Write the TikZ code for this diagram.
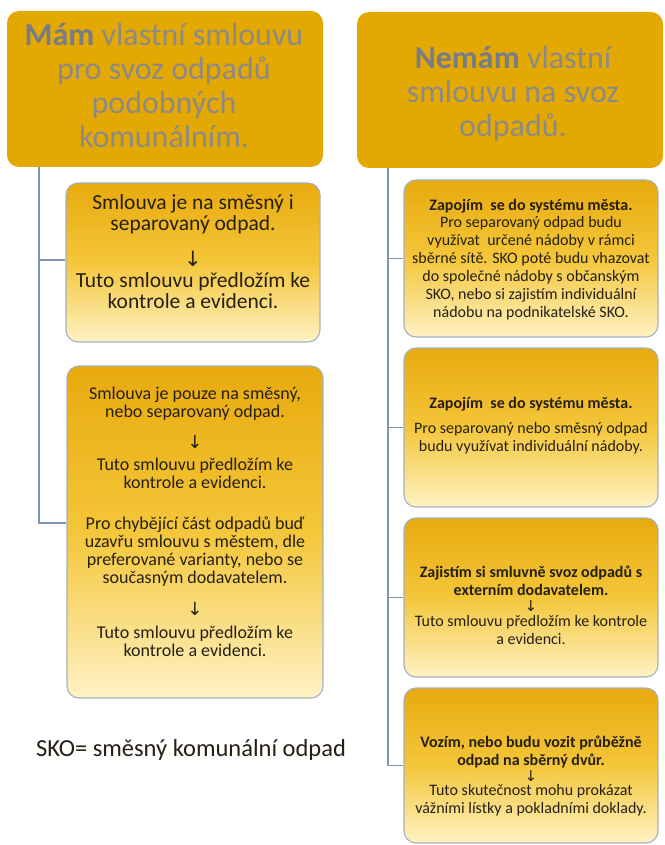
\documentclass[tikz,border=0pt]{standalone}
\usepackage{fontspec}
\setmainfont{Carlito}
\newfontfamily\arrowfont{DejaVu Sans}
\definecolor{topgold}{RGB}{227,168,2}
\definecolor{gtop}{RGB}{232,170,14}
\definecolor{gmid}{RGB}{244,198,58}
\definecolor{gbot}{RGB}{255,242,196}
\definecolor{boxborder}{RGB}{160,178,194}
\definecolor{connc}{RGB}{125,150,175}
\definecolor{titlegray}{RGB}{140,138,134}
\definecolor{titlebold}{RGB}{118,124,136}
\definecolor{bodytext}{RGB}{38,32,20}
\newcommand{\dn}[2]{\smash{\raisebox{#2}{\arrowfont\fontsize{#1}{#1}\selectfont ↓}}}
\begin{document}
\begin{tikzpicture}[x=1pt,y=-1pt,
  topbox/.style={draw=none,fill=topgold,rounded corners=12pt,inner sep=0pt},
  childbox/.style={draw=boxborder,line width=1.1pt,rounded corners=12pt,inner sep=0pt,
     top color=gtop,bottom color=gbot,middle color=gmid},
  titletxt/.style={align=center,text=titlegray,inner sep=0pt,font=\fontsize{32}{34}\selectfont},
  bodytxt/.style={align=center,text=bodytext,inner sep=0pt},
  conn/.style={draw=connc,line width=1.3pt}]
\useasboundingbox (0,0) rectangle (664,845);
\fill[white] (0,0) rectangle (664,845);

% top boxes
\node[topbox,minimum width=316pt,minimum height=156pt] (ltop) at (165,89) {};
\node[titletxt] (ltopt) at (164,86) {\textcolor{titlebold}{\textbf{Mám}} vlastní smlouvu\\pro svoz odpadů\\podobných\\komunálním.};
\node[topbox,minimum width=306pt,minimum height=156pt] (rtop) at (510,90) {};
\node[titletxt] (rtopt) at (513,94) {\textcolor{titlebold}{\textbf{Nemám}} vlastní\\smlouvu na svoz\\odpadů.};

% left children
\node[childbox,minimum width=254pt,minimum height=159pt] (l1) at (193,262.5) {};
\node[bodytxt,font=\fontsize{21.5}{21}\selectfont] (l1t) at (193,252) {Smlouva je na směsný i\\separovaný odpad.\\[16pt]\dn{21}{1pt}\\[-1pt]Tuto smlouvu předložím ke\\kontrole a evidenci.};

\node[childbox,minimum width=256pt,minimum height=332pt] (l2) at (195,532) {};
\node[bodytxt,font=\fontsize{18}{18}\selectfont] (l2t) at (195,522) {Smlouva je pouze na směsný,\\nebo separovaný odpad.\\[12pt]\dn{18}{-1pt}\\[5pt]Tuto smlouvu předložím ke\\kontrole a evidenci.\\[23pt]Pro chybějící část odpadů buď\\uzavřu smlouvu s městem, dle\\preferované varianty, nebo se\\současným dodavatelem.\\[13pt]\dn{18}{-1pt}\\[6pt]Tuto smlouvu předložím ke\\kontrole a evidenci.};

% right children
\node[childbox,minimum width=254pt,minimum height=157pt] (r1) at (531,258.5) {};
\node[bodytxt,font=\fontsize{16}{18}\selectfont] (r1t) at (531,259.5) {\textbf{Zapojím\ \ se do systému města.}\\[-1pt]Pro separovaný odpad budu\\využívat\ \ určené nádoby v rámci\\sběrné sítě. SKO poté budu vhazovat\\do společné nádoby s občanským\\SKO, nebo si zajistím individuální\\nádobu na podnikatelské SKO.};

\node[childbox,minimum width=254pt,minimum height=159pt] (r2) at (531,427.5) {};
\node[bodytxt,font=\fontsize{16}{18}\selectfont] (r2t) at (531,426) {\textbf{Zapojím\ \ se do systému města.}\\[7pt]Pro separovaný nebo směsný odpad\\budu využívat individuální nádoby.};

\node[childbox,minimum width=254pt,minimum height=159pt] (r3) at (531,597.5) {};
\node[bodytxt,font=\fontsize{16}{18}\selectfont] (r3t) at (531,605.5) {\textbf{Zajistím si smluvně svoz odpadů s}\\\textbf{externím dodavatelem.}\\[-2pt]\dn{15}{0pt}\\[-3pt]Tuto smlouvu předložím ke kontrole\\a evidenci.};

\node[childbox,minimum width=254pt,minimum height=155pt] (r4) at (531,765.5) {};
\node[bodytxt,font=\fontsize{16}{18}\selectfont] (r4t) at (531,776) {\textbf{Vozím, nebo budu vozit průběžně}\\\textbf{odpad na sběrný dvůr.}\\[-2pt]\dn{15}{0pt}\\[-4pt]Tuto skutečnost mohu prokázat\\vážními lístky a pokladními doklady.};

% legend
\node[bodytxt,font=\fontsize{24.5}{26}\selectfont] (sko) at (191,750) {SKO= směsný komunální odpad};

% connectors
\coordinate (lv) at (39,167);
\coordinate (rv) at (388,168);
\draw[conn] (lv) |- ([yshift=2.5pt]l1.west);
\draw[conn] (lv) |- ([yshift=9pt]l2.west);
\draw[conn] (rv) |- (r1.west);
\draw[conn] (rv) |- (r2.west);
\draw[conn] (rv) |- (r3.west);
\draw[conn] (rv) |- (r4.west);
\end{tikzpicture}
\end{document}
